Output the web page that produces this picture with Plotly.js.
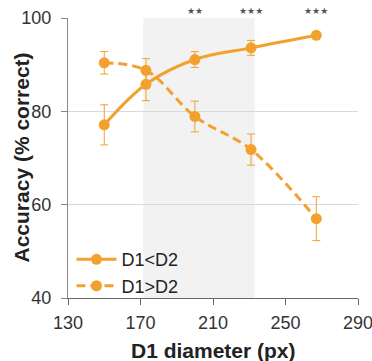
<!DOCTYPE html>
<html>
<head>
<meta charset="utf-8">
<script src="https://cdn.plot.ly/plotly-3.0.1.min.js"></script>
<style>html,body{margin:0;padding:0;background:#fff;}#chart{width:372px;height:361px;}</style>
</head>
<body>
<div id="chart"></div>
<script>
var diameters = [150, 173, 200, 231, 267];
var accLess = [77.1, 85.8, 91.1, 93.6, 96.3];
var errLess = [4.3, 3.5, 1.7, 1.6, 0.5];
var accGreater = [90.4, 88.8, 78.9, 71.8, 57.0];
var errGreater = [2.4, 2.5, 3.3, 3.35, 4.7];
var sigLabels = ['', '', '★★', '★★★', '★★★'];
var shadeRange = [171.5, 233];
var xTicks = [130, 170, 210, 250, 290];
var yTicks = [40, 60, 80, 100];
var xTitle = 'D1 diameter (px)';
var yTitle = 'Accuracy (% correct)';

var orange = '#F2A12E';
var FONT = 'Liberation Sans, Arial, sans-serif';

var traces = [
  {
    x: diameters, y: accLess, name: 'D1<D2', type: 'scatter', mode: 'lines+markers',
    line: {color: orange, width: 3, shape: 'spline'},
    marker: {color: orange, size: 11},
    error_y: {type: 'data', array: errLess, visible: true, color: orange, thickness: 1, width: 4}
  },
  {
    x: diameters, y: accGreater, name: 'D1>D2', type: 'scatter', mode: 'lines+markers',
    line: {color: orange, width: 3, shape: 'spline', dash: '9px,5px'},
    marker: {color: orange, size: 11},
    error_y: {type: 'data', array: errGreater, visible: true, color: orange, thickness: 1, width: 4}
  }
];

var annotations = [];
for (var i = 0; i < diameters.length; i++) {
  if (sigLabels[i]) {
    annotations.push({
      x: diameters[i], xref: 'x', y: 1, yref: 'paper', yanchor: 'bottom',
      text: sigLabels[i], showarrow: false,
      font: {family: 'DejaVu Sans, sans-serif', size: 9, color: '#555'}
    });
  }
}
annotations.push({
  x: 0.5, xref: 'paper', y: 0, yref: 'paper', yanchor: 'middle', yshift: -52,
  text: '<b>' + xTitle + '</b>', showarrow: false,
  font: {family: FONT, size: 21, color: '#222'}
});
annotations.push({
  x: 0, xref: 'paper', xanchor: 'center', xshift: -47.5, y: 0.5, yref: 'paper',
  text: '<b>' + yTitle + '</b>', showarrow: false, textangle: -90,
  font: {family: FONT, size: 21, color: '#222'}
});

var layout = {
  width: 372, height: 361,
  margin: {l: 67.5, r: 13.7, t: 18.3, b: 62.7},
  paper_bgcolor: '#fff', plot_bgcolor: 'rgba(0,0,0,0)',
  font: {family: FONT, color: '#333'},
  showlegend: true,
  legend: {
    x: 0.012, y: -0.022, xanchor: 'left', yanchor: 'bottom',
    bgcolor: 'rgba(0,0,0,0)', font: {family: FONT, size: 18, color: '#222'},
    itemwidth: 40, tracegroupgap: 0
  },
  xaxis: {
    range: [130, 290], tickvals: xTicks, ticktext: xTicks.map(String),
    showgrid: false, zeroline: false,
    showline: true, linecolor: '#666', linewidth: 1,
    ticks: 'outside', ticklen: 6, tickcolor: '#666',
    tickfont: {family: FONT, size: 18, color: '#333'},
    ticklabelstandoff: 2, ticklabeloverflow: 'allow'
  },
  yaxis: {
    range: [40, 100], tickvals: yTicks, ticktext: yTicks.map(String),
    showgrid: true, gridcolor: '#d9d9d9', gridwidth: 1, zeroline: false,
    showline: true, linecolor: '#888', linewidth: 1,
    ticks: 'outside', ticklen: 6, tickcolor: '#888',
    tickfont: {family: FONT, size: 18, color: '#333'},
    ticklabelstandoff: 6, ticklabeloverflow: 'allow'
  },
  shapes: [{
    type: 'rect', xref: 'x', yref: 'y', x0: shadeRange[0], x1: shadeRange[1], y0: 40, y1: 100,
    fillcolor: '#f2f2f2', line: {width: 0}, layer: 'below'
  }],
  annotations: annotations
};

Plotly.newPlot('chart', traces, layout, {displayModeBar: false, staticPlot: true});
</script>
</body>
</html>
